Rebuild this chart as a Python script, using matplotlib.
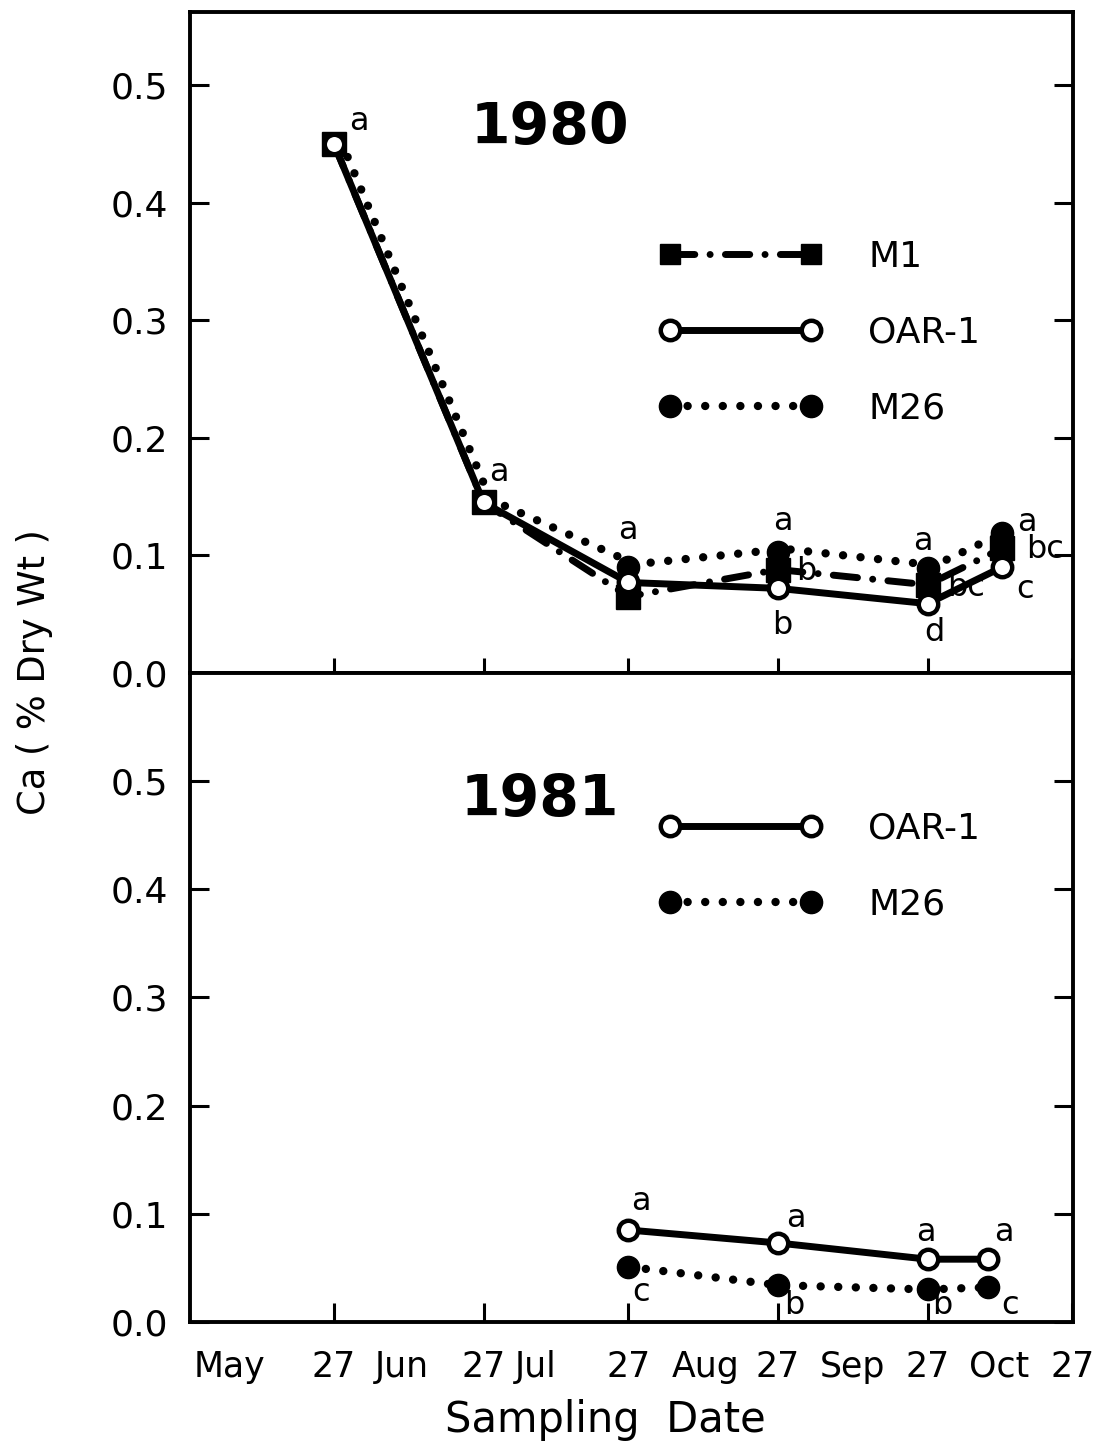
import matplotlib
matplotlib.use("Agg")
from matplotlib import pyplot as plt
from matplotlib.lines import Line2D
from matplotlib import transforms

# sampling dates as day of year
days_1980 = [147, 178, 208, 239, 270, 285.4]
days_1981 = [208, 239, 270, 282.4]

# Ca (% dry wt)
m1_1980 = [0.45, 0.145, 0.065, 0.088, 0.075, 0.106]
oar_1980 = [0.45, 0.145, 0.077, 0.072, 0.059, 0.090]
m26_1980 = [0.45, 0.145, 0.090, 0.103, 0.089, 0.119]

oar_1981 = [0.085, 0.073, 0.058, 0.058]
m26_1981 = [0.051, 0.034, 0.030, 0.032]

# mean separation letters
m1_1980_let = ["", "", "", "b", "bc", "bc"]
oar_1980_let = ["", "", "", "b", "d", "c"]
m26_1980_let = ["a", "a", "a", "a", "a", "a"]
oar_1981_let = ["a", "a", "a", "a"]
m26_1981_let = ["c", "b", "b", "c"]

tick_days = [147, 178, 208, 239, 270, 300]
tick_labels = ["27", "27", "27", "27", "27", "27"]
month_days = [125.4, 161.1, 188.9, 223.9, 254.5, 284.8]
month_names = ["May", "Jun", "Jul", "Aug", "Sep", "Oct"]

# letter offsets (pixels)
m26_1980_off = [(25, 22), (15, 30), (0, 37), (5, 30), (-5, 27), (25, 11)]
m1_1980_off = [(0, 0), (0, 0), (0, 0), (28, -2), (38, -3), (43, -1)]
oar_1980_off = [(0, 0), (0, 0), (0, 0), (4, -37), (7, -29), (23, -22)]
oar_1981_off = [(13, 28), (18, 24), (-2, 27), (16, 27)]
m26_1981_off = [(13, -26), (16, -20), (15, -16), (23, -18)]

plt.rcParams['font.family'] = ['DejaVu Sans']

m1_style = dict(color='black', lw=5, ls=(0, (3.5, 2.2, 0.01, 2.2)),
                dash_capstyle='round', solid_capstyle='round')
oar_style = dict(color='black', lw=5, ls='-', solid_capstyle='round')
m26_style = dict(color='black', lw=6, ls=(0, (0.01, 2.1)),
                 dash_capstyle='round')
m1_mk = dict(marker='s', ms=17, mfc='black', mec='black', ls='none')
oar_mk = dict(marker='o', ms=14, mfc='white', mec='black', mew=3.2, ls='none')
m26_mk = dict(marker='o', ms=16, mfc='black', mec='black', ls='none')

fig = plt.figure(figsize=(11.04, 14.53), dpi=100)
ax1 = fig.add_axes([0.1721, 0.5368, 0.7998, 0.4549])
ax2 = fig.add_axes([0.1721, 0.0902, 0.7998, 0.4467])


def letters(ax, xs, ys, labs, offs):
    for x, y, s, o in zip(xs, ys, labs, offs):
        if s:
            ax.annotate(s, (x, y), xytext=o, textcoords='offset pixels',
                        ha='center', va='center', fontsize=23, zorder=5)


# ---- 1980
shift = transforms.offset_copy(ax1.transData, fig=fig, x=7, y=3, units='dots')
ax1.plot(days_1980, m1_1980, zorder=2, **m1_style)
ax1.plot(days_1980, oar_1980, zorder=2, **oar_style)
ax1.plot(days_1980, m26_1980, zorder=2, transform=shift, **m26_style)
ax1.plot(days_1980, m1_1980, zorder=3, **m1_mk)
ax1.plot(days_1980, m26_1980, zorder=3, **m26_mk)
ax1.plot(days_1980, oar_1980, zorder=4, **oar_mk)
letters(ax1, days_1980, m26_1980, m26_1980_let, m26_1980_off)
letters(ax1, days_1980, m1_1980, m1_1980_let, m1_1980_off)
letters(ax1, days_1980, oar_1980, oar_1980_let, oar_1980_off)

# ---- 1981
ax2.plot(days_1981, oar_1981, zorder=2, **oar_style)
ax2.plot(days_1981, m26_1981, zorder=2, **m26_style)
ax2.plot(days_1981, m26_1981, zorder=3, **m26_mk)
ax2.plot(days_1981, oar_1981, zorder=4, **oar_mk)
letters(ax2, days_1981, oar_1981, oar_1981_let, oar_1981_off)
letters(ax2, days_1981, m26_1981, m26_1981_let, m26_1981_off)

# legends
h_m1 = Line2D([], [], **{**m1_style, **{k: v for k, v in m1_mk.items() if k != 'ls'}, 'ms': 15})
h_oar = Line2D([], [], **{**oar_style, **{k: v for k, v in oar_mk.items() if k != 'ls'}})
h_m26 = Line2D([], [], **{**m26_style, **{k: v for k, v in m26_mk.items() if k != 'ls'}})
leg_kw = dict(frameon=False, numpoints=2, fontsize=26, handlelength=4.5,
              handletextpad=1.3, labelspacing=1.15, borderpad=0,
              borderaxespad=0, loc='upper left')
ax1.legend([h_m1, h_oar, h_m26], ["M1", "OAR-1", "M26"],
           bbox_to_anchor=(0.531, 0.655), **leg_kw)
ax2.legend([h_oar, h_m26], ["OAR-1", "M26"],
           bbox_to_anchor=(0.531, 0.786), **leg_kw)

ax1.text(0.408, 0.824, "1980", transform=ax1.transAxes, fontsize=41,
         fontweight='bold', ha='center', va='center')
ax2.text(0.396, 0.804, "1981", transform=ax2.transAxes, fontsize=41,
         fontweight='bold', ha='center', va='center')

for ax, top in [(ax1, 0.562), (ax2, 0.6)]:
    ax.set_xlim(117.2, 300.1)
    ax.set_ylim(0, top)
    ax.set_yticks([0.0, 0.1, 0.2, 0.3, 0.4, 0.5])
    ax.set_yticklabels(["0.0", "0.1", "0.2", "0.3", "0.4", "0.5"])
    ax.set_xticks(tick_days)
    ax.set_xticks(month_days, minor=True)
    for sp in ax.spines.values():
        sp.set_linewidth(2.8)
    ax.tick_params(axis='y', which='major', direction='in', length=14,
                   width=2.2, labelsize=26, pad=16, right=True)
    ax.tick_params(axis='x', which='minor', length=0)

ax1.tick_params(axis='x', which='both', direction='inout', length=22, width=2.2,
                labelbottom=False, top=False)
ax1.tick_params(axis='x', which='minor', length=0)
ax2.tick_params(axis='x', which='major', direction='in', length=14, width=2.2,
                labelsize=25, pad=20, top=False)
ax2.set_xticklabels(tick_labels)
ax2.set_xticklabels(month_names, minor=True)
ax2.tick_params(axis='x', which='minor', labelsize=25, pad=20)

fig.text(35 / 1104, 1 - 672 / 1453, "Ca ( % Dry Wt )", rotation=90,
         ha='center', va='center', fontsize=26.5)
fig.text(605 / 1104, 1 - 1420 / 1453, "Sampling  Date", ha='center',
         va='center', fontsize=30)

fig.savefig("out.png", dpi=100)
